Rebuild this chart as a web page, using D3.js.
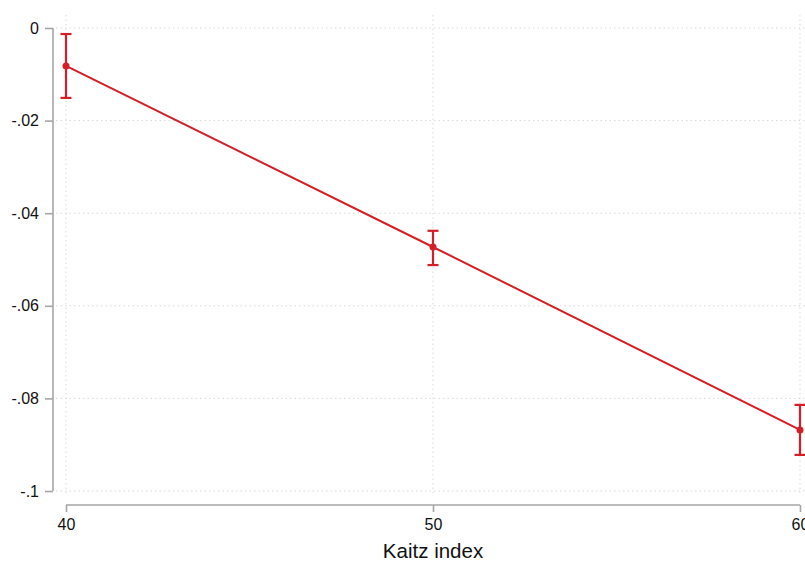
<!DOCTYPE html>
<html>
<head>
<meta charset="utf-8">
<script src="https://cdn.jsdelivr.net/npm/d3@7"></script>
<style>
  body { margin: 0; background: #fff; }
  text { font-family: "Liberation Sans", Arial, sans-serif; }
</style>
</head>
<body>
<div id="chart"></div>
<script>
// data
var kaitz = [40, 50, 60];
var effect = [-0.0082, -0.0473, -0.0868];
var ciLow = [-0.0151, -0.0512, -0.0922];
var ciHigh = [-0.0013, -0.0438, -0.0814];
var yTicks = [0, -0.02, -0.04, -0.06, -0.08, -0.1];
var yTickLabels = ["0", "-.02", "-.04", "-.06", "-.08", "-.1"];
var xTicks = [40, 50, 60];
var xTitle = "Kaitz index";

var width = 805, height = 562;
var red = "#d41f26";

var svg = d3.select("#chart").append("svg")
    .attr("width", width)
    .attr("height", height);

var x = d3.scaleLinear().domain([40, 60]).range([66, 800]);
var y = d3.scaleLinear().domain([-0.1, 0]).range([491, 28]);

// grid
var grid = svg.append("g");
grid.selectAll(".hg").data(yTicks).enter().append("line")
    .attr("x1", 56).attr("x2", width)
    .attr("y1", function(d) { return y(d); })
    .attr("y2", function(d) { return y(d); })
    .attr("stroke", "#d9d9d9")
    .attr("stroke-dasharray", "1.5,3");
grid.selectAll(".vg").data(xTicks).enter().append("line")
    .attr("y1", 15).attr("y2", 493)
    .attr("x1", function(d) { return x(d); })
    .attr("x2", function(d) { return x(d); })
    .attr("stroke", "#d9d9d9")
    .attr("stroke-dasharray", "1.5,3");

// y axis
var yAxis = d3.axisLeft(y)
    .tickValues(yTicks)
    .tickSize(8)
    .tickPadding(6)
    .tickFormat(function(d, i) { return yTickLabels[i]; });
var yg = svg.append("g")
    .attr("transform", "translate(53,0)")
    .call(yAxis);
yg.select(".domain").attr("d", "M0," + y(0) + "V" + y(-0.1));

// x axis
var xAxis = d3.axisBottom(x)
    .tickValues(xTicks)
    .tickSize(7)
    .tickPadding(7);
var xg = svg.append("g")
    .attr("transform", "translate(0,505)")
    .call(xAxis);
xg.select(".domain").attr("d", "M" + x(40) + ",0H" + x(60));

svg.selectAll(".domain, .tick line")
    .attr("stroke", "#a6a6a6")
    .attr("stroke-width", 1.6);
svg.selectAll(".tick text")
    .attr("font-size", "16px")
    .attr("fill", "#111");

// x title
svg.append("text")
    .attr("x", x(50))
    .attr("y", 558)
    .attr("text-anchor", "middle")
    .attr("font-size", "20.5px")
    .attr("fill", "#111")
    .text(xTitle);

// line
var pts = kaitz.map(function(k, i) { return [k, effect[i]]; });
svg.append("path")
    .datum(pts)
    .attr("fill", "none")
    .attr("stroke", red)
    .attr("stroke-width", 2)
    .attr("d", d3.line()
        .x(function(d) { return x(d[0]); })
        .y(function(d) { return y(d[1]); }));

// error bars
var eb = svg.append("g").selectAll("g").data(kaitz).enter().append("g");
eb.append("line")
    .attr("x1", function(d) { return x(d); })
    .attr("x2", function(d) { return x(d); })
    .attr("y1", function(d, i) { return y(ciLow[i]); })
    .attr("y2", function(d, i) { return y(ciHigh[i]); })
    .attr("stroke", red).attr("stroke-width", 2.2);
eb.append("line")
    .attr("x1", function(d) { return x(d) - 5.5; })
    .attr("x2", function(d) { return x(d) + 5.5; })
    .attr("y1", function(d, i) { return y(ciLow[i]); })
    .attr("y2", function(d, i) { return y(ciLow[i]); })
    .attr("stroke", red).attr("stroke-width", 2.2);
eb.append("line")
    .attr("x1", function(d) { return x(d) - 5.5; })
    .attr("x2", function(d) { return x(d) + 5.5; })
    .attr("y1", function(d, i) { return y(ciHigh[i]); })
    .attr("y2", function(d, i) { return y(ciHigh[i]); })
    .attr("stroke", red).attr("stroke-width", 2.2);

// markers
svg.append("g").selectAll("circle").data(kaitz).enter().append("circle")
    .attr("cx", function(d) { return x(d); })
    .attr("cy", function(d, i) { return y(effect[i]); })
    .attr("r", 3.5)
    .attr("fill", red);
</script>
</body>
</html>
